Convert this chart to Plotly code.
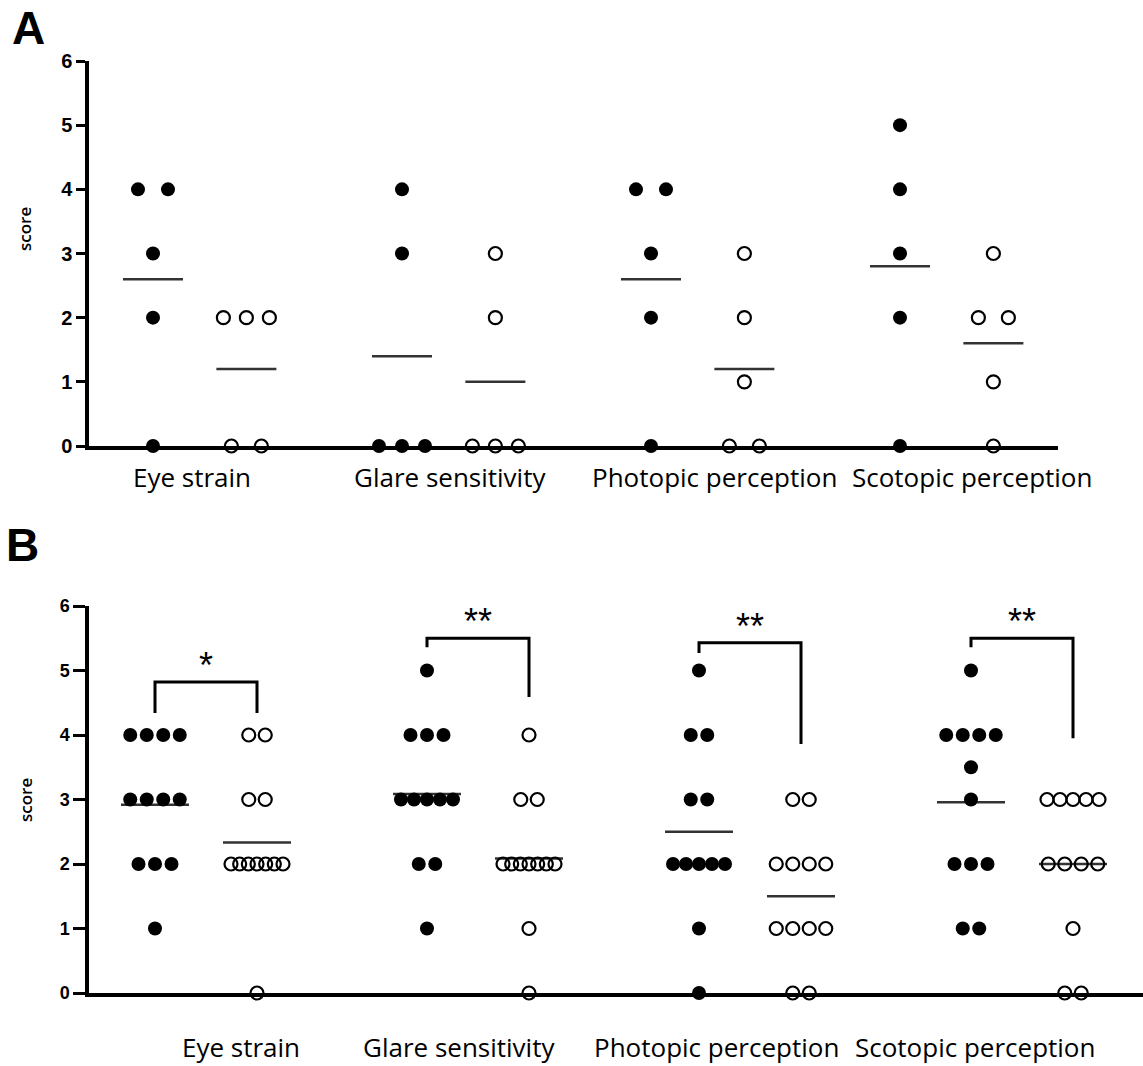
import plotly.graph_objects as go
from collections import Counter

# ---------------- data ----------------
categories = ["Eye strain", "Glare sensitivity", "Photopic perception", "Scotopic perception"]
y_ticks = [0, 1, 2, 3, 4, 5, 6]

# Panel A (filled = group 1, open = group 2)
a_eye_filled = [4, 4, 3, 2, 0]
a_eye_open = [2, 2, 2, 0, 0]
a_glare_filled = [4, 3, 0, 0, 0]
a_glare_open = [3, 2, 0, 0, 0]
a_photo_filled = [4, 4, 3, 2, 0]
a_photo_open = [3, 2, 1, 0, 0]
a_scoto_filled = [5, 4, 3, 2, 0]
a_scoto_open = [3, 2, 2, 1, 0]

# Panel B
b_eye_filled = [4, 4, 4, 4, 3, 3, 3, 3, 2, 2, 2, 1]
b_eye_open = [4, 4, 3, 3, 2, 2, 2, 2, 2, 2, 2, 0]
b_glare_filled = [5, 4, 4, 4, 3, 3, 3, 3, 3, 2, 2, 1]
b_glare_open = [4, 3, 3, 2, 2, 2, 2, 2, 2, 2, 1, 0]
b_photo_filled = [5, 4, 4, 3, 3, 2, 2, 2, 2, 2, 1, 0]
b_photo_open = [3, 3, 2, 2, 2, 2, 1, 1, 1, 1, 0, 0]
b_scoto_filled = [5, 4, 4, 4, 4, 3.5, 3, 2, 2, 2, 1, 1]
b_scoto_open = [3, 3, 3, 3, 3, 2, 2, 2, 2, 1, 0, 0]

# significance brackets in panel B
b_sig_labels = ["*", "**", "**", "**"]
b_bracket_top = [4.82, 5.5, 5.43, 5.5]
b_bracket_left_end = [4.34, 5.36, 5.27, 5.36]
b_bracket_right_end = [4.34, 4.59, 3.86, 3.95]

a_filled = [a_eye_filled, a_glare_filled, a_photo_filled, a_scoto_filled]
a_open = [a_eye_open, a_glare_open, a_photo_open, a_scoto_open]
b_filled = [b_eye_filled, b_glare_filled, b_photo_filled, b_scoto_filled]
b_open = [b_eye_open, b_glare_open, b_photo_open, b_scoto_open]

# ---------------- layout constants ----------------
W, H = 1143, 1066
OPEN_OFFSET = 0.375
A_PX = 249.0   # pixels per group unit, panel A
B_PX = 272.0   # pixels per group unit, panel B
A_LABEL_X = [0.157, 1.193, 2.253, 3.289]
B_LABEL_X = [0.316, 1.118, 2.066, 3.015]


def spread(values, center, spacing_px, width_px, px_per_unit):
    xs, ys = [], []
    counts = Counter(values)
    for v in sorted(counts, reverse=True):
        n = counts[v]
        sp = spacing_px if n < 2 else min(spacing_px, width_px / (n - 1))
        for i in range(n):
            xs.append(center + (i - (n - 1) / 2) * sp / px_per_unit)
            ys.append(v)
    return xs, ys


fig = go.Figure()


def add_panel(filled, opened, xa, ya, px_unit, sp, wd, mean_half_px):
    mx, my = [], []
    for g in range(len(categories)):
        for grp, off in ((filled[g], 0.0), (opened[g], OPEN_OFFSET)):
            m = sum(grp) / len(grp)
            c = g + off
            mx += [c - mean_half_px / px_unit, c + mean_half_px / px_unit, None]
            my += [m, m, None]
    fig.add_trace(go.Scatter(x=mx, y=my, mode="lines", xaxis=xa, yaxis=ya,
                             line=dict(color="#333333", width=2.5),
                             hoverinfo="skip", cliponaxis=False))
    fx, fy, ox, oy = [], [], [], []
    for g in range(len(categories)):
        x1, y1 = spread(filled[g], g, sp, wd, px_unit)
        x2, y2 = spread(opened[g], g + OPEN_OFFSET, sp, wd, px_unit)
        fx += x1; fy += y1; ox += x2; oy += y2
    fig.add_trace(go.Scatter(x=fx, y=fy, mode="markers", xaxis=xa, yaxis=ya,
                             marker=dict(symbol="circle", size=14, color="black",
                                         line=dict(width=0)),
                             cliponaxis=False))
    fig.add_trace(go.Scatter(x=ox, y=oy, mode="markers", xaxis=xa, yaxis=ya,
                             marker=dict(symbol="circle-open", size=13, color="black",
                                         line=dict(width=2.2, color="black")),
                             cliponaxis=False))


add_panel(a_filled, a_open, "x", "y", A_PX, 30, 46, 30)
add_panel(b_filled, b_open, "x2", "y2", B_PX, 16.5, 52, 34)

# brackets
bx, by = [], []
for g in range(len(categories)):
    l, r = g, g + OPEN_OFFSET
    bx += [l, l, r, r, None]
    by += [b_bracket_left_end[g], b_bracket_top[g], b_bracket_top[g], b_bracket_right_end[g], None]
    fig.add_annotation(x=(l + r) / 2, y=b_bracket_top[g], xref="x2", yref="y2",
                       text=b_sig_labels[g], showarrow=False,
                       xanchor="center", yanchor="bottom", yshift=-6,
                       font=dict(family="Liberation Sans, Arial", size=36, color="black"))
fig.add_trace(go.Scatter(x=bx, y=by, mode="lines", xaxis="x2", yaxis="y2",
                         line=dict(color="black", width=3), hoverinfo="skip",
                         cliponaxis=False))

axis_common = dict(showgrid=False, zeroline=False, showline=True, linecolor="black",
                   linewidth=3.5, automargin=False)


def yaxis_style(fs, tl):
    return dict(axis_common, range=[0, 6], tickvals=y_ticks, ticks="outside",
                ticklen=tl, tickwidth=2.5, tickcolor="black",
                tickfont=dict(family="Liberation Sans, Arial", size=fs,
                              color="black", weight="bold"))


fig.update_layout(
    template="none",
    width=W, height=H, margin=dict(l=0, r=0, t=0, b=0, pad=0, autoexpand=False),
    paper_bgcolor="white", plot_bgcolor="white", showlegend=False,
    xaxis=dict(axis_common, domain=[89 / W, 1058 / W],
               range=[(89 - 153) / A_PX, (1058 - 153) / A_PX],
               showticklabels=False, ticks="", anchor="y"),
    yaxis=dict(yaxis_style(20, 9), domain=[1 - 446 / H, 1 - 61 / H], anchor="x"),
    xaxis2=dict(axis_common, domain=[89 / W, 1.0],
                range=[(89 - 155) / B_PX, (1143 - 155) / B_PX],
                showticklabels=False, ticks="", anchor="y2"),
    yaxis2=dict(yaxis_style(18, 12), domain=[1 - 993 / H, 1 - 606 / H], anchor="x2"),
)

label_font = dict(family="Open Sans", size=26, color="black")
for g, name in enumerate(categories):
    fig.add_annotation(x=A_LABEL_X[g], y=1 - 477 / H, xref="x", yref="paper",
                       text=name, showarrow=False, font=label_font,
                       xanchor="center", yanchor="middle")
    fig.add_annotation(x=B_LABEL_X[g], y=1 - 1047 / H, xref="x2", yref="paper",
                       text=name, showarrow=False, font=label_font,
                       xanchor="center", yanchor="middle")

for yc in (1 - 229 / H, 1 - 800 / H):
    fig.add_annotation(x=25 / W, y=yc, xref="paper", yref="paper", text="score",
                       textangle=-90, showarrow=False,
                       xanchor="center", yanchor="middle",
                       font=dict(family="Open Sans", size=17, color="black",
                                 weight=600))

for txt, xc, yc in (("A", 28, 28), ("B", 22, 545)):
    fig.add_annotation(x=xc / W, y=1 - yc / H, xref="paper", yref="paper", text=txt,
                       showarrow=False, xanchor="center", yanchor="middle",
                       font=dict(family="Liberation Sans, Arial", size=46,
                                 color="black", weight="bold"))

fig.write_html("out.html")
